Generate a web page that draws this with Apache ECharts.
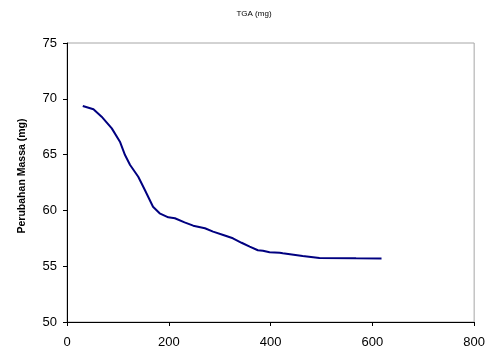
<!DOCTYPE html>
<html>
<head>
<meta charset="utf-8">
<script src="https://cdn.jsdelivr.net/npm/echarts@6/dist/echarts.min.js"></script>
<style>
  html, body { margin: 0; padding: 0; background: #fff; }
  #chart { width: 488px; height: 350px; }
</style>
</head>
<body>
<div id="chart"></div>
<script>
// Temperature (x) and remaining mass in mg (y) of the TGA run
const temperature = [31, 52, 68, 88, 104, 114, 124, 140, 153, 169, 182, 199, 212, 231, 248, 271, 287, 307, 326, 343, 359, 375, 385, 398, 418, 424, 463, 496, 568, 618];
const mass = [69.35, 69.06, 68.4, 67.35, 66.16, 64.96, 64.07, 63.02, 61.83, 60.33, 59.74, 59.38, 59.3, 58.93, 58.63, 58.4, 58.1, 57.8, 57.5, 57.1, 56.75, 56.43, 56.38, 56.25, 56.2, 56.16, 55.92, 55.74, 55.71, 55.7];
const xTicks = [0, 200, 400, 600, 800];
const yTicks = [50, 55, 60, 65, 70, 75];

const chart = echarts.init(document.getElementById('chart'), null, { renderer: 'canvas' });
const fontFamily = 'Liberation Sans, Arial, sans-serif';
const labelFont = { fontFamily: fontFamily, fontSize: 13, color: '#000' };

chart.setOption({
  animation: false,
  backgroundColor: '#fff',
  title: {
    text: 'TGA (mg)',
    left: 249,
    top: 5,
    textAlign: 'center',
    textStyle: { fontFamily: fontFamily, fontSize: 8, fontWeight: 'normal', color: '#000' }
  },
  graphic: [{
    // vertical axis title
    type: 'text',
    x: 22,
    y: 176,
    rotation: Math.PI / 2,
    style: {
      text: 'Perubahan Massa (mg)',
      fontFamily: fontFamily,
      fontSize: 10.5,
      fontWeight: 'bold',
      fill: '#000',
      align: 'center',
      verticalAlign: 'middle'
    }
  }],
  grid: {
    left: 67, right: 13, top: 43, bottom: 28,
    show: true, borderColor: '#a6a6a6', borderWidth: 1, backgroundColor: '#fff'
  },
  xAxis: {
    type: 'value',
    min: xTicks[0], max: xTicks[xTicks.length - 1], interval: 200,
    axisLine: { lineStyle: { color: '#000', width: 1 } },
    axisTick: { show: true, length: 4, lineStyle: { color: '#000' } },
    axisLabel: Object.assign({ margin: 14 }, labelFont),
    splitLine: { show: false }
  },
  yAxis: {
    type: 'value',
    min: yTicks[0], max: yTicks[yTicks.length - 1], interval: 5,
    axisLine: { show: true, lineStyle: { color: '#000', width: 1 } },
    axisTick: { show: true, length: 4, lineStyle: { color: '#000' } },
    axisLabel: Object.assign({ margin: 10 }, labelFont),
    splitLine: { show: false }
  },
  series: [{
    type: 'line',
    data: temperature.map((t, i) => [t, mass[i]]),
    showSymbol: false,
    smooth: false,
    lineStyle: { color: '#000080', width: 2 }
  }]
});
</script>
</body>
</html>
